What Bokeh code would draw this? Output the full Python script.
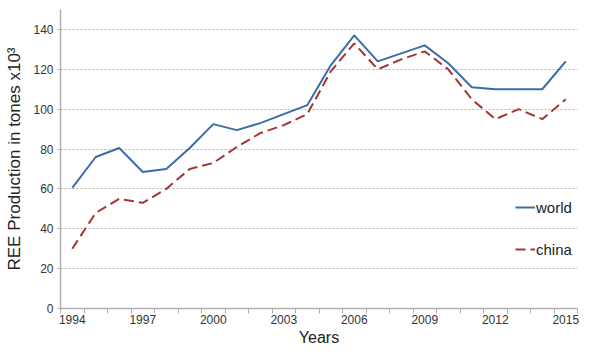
from bokeh.plotting import figure
from bokeh.models import FixedTicker, Legend, LegendItem, Range1d
from bokeh.embed import file_html
from bokeh.resources import INLINE

years = list(range(1994, 2016))
world = [60.5, 76, 80.5, 68.5, 70, 80.5, 92.5, 89.5, 93, 97.5, 102, 122, 137, 124, 128, 132, 123, 111, 110, 110, 110, 124]
china = [30, 48, 55, 53, 60, 70, 73, 81, 88, 92, 97.5, 119, 133, 120, 125, 129, 120, 105, 95, 100, 95, 105]
x_label_years = [1994, 1997, 2000, 2003, 2006, 2009, 2012, 2015]
y_ticks = [0, 20, 40, 60, 80, 100, 120, 140]

p = figure(width=586, height=348, output_backend="svg", toolbar_location=None,
           x_range=Range1d(1993.5, 2015.5), y_range=Range1d(0, 150),
           min_border_left=60, min_border_right=9, min_border_top=9, min_border_bottom=38)
p.outline_line_color = None
p.background_fill_color = "white"

rw = p.line(years, world, line_color="#3A6EA8", line_width=2)
rc = p.line(years, china, line_color="#A33535", line_width=2, line_dash="10 5")

minor = [y - 0.5 for y in years] + [years[-1] + 0.5]
p.xaxis.ticker = FixedTicker(ticks=x_label_years, minor_ticks=minor)
p.yaxis.ticker = FixedTicker(ticks=y_ticks)
p.xgrid.visible = False
p.ygrid.grid_line_color = "#b5b5b5"
p.ygrid.grid_line_dash = "2 2"
p.ygrid.grid_line_width = 1

for ax in (p.xaxis, p.yaxis):
    ax.axis_line_color = "#b0b0b0"
    ax.axis_line_width = 1.5
    ax.major_tick_line_color = "#b0b0b0"
    ax.minor_tick_line_color = "#b0b0b0"
    ax.major_label_text_font = "Liberation Sans"
    ax.major_label_text_font_size = "12px"
    ax.major_label_text_color = "#333333"
    ax.axis_label_text_font = "Liberation Sans"
    ax.axis_label_text_font_style = "normal"
    ax.axis_label_text_color = "#222222"

p.xaxis.major_tick_in = 0
p.xaxis.major_tick_out = 0
p.xaxis.minor_tick_in = 0
p.xaxis.minor_tick_out = 5
p.xaxis.major_label_standoff = 1
p.xaxis.axis_label = "Years"
p.xaxis.axis_label_text_font_size = "16px"
p.xaxis.axis_label_standoff = 2

p.yaxis.major_tick_in = 0
p.yaxis.major_tick_out = 3
p.yaxis.minor_tick_out = 0
p.yaxis.minor_tick_in = 0
p.yaxis.major_label_standoff = 4
p.yaxis.axis_label = "REE Production in tones x10³"
p.yaxis.axis_label_text_font_size = "17px"
p.yaxis.axis_label_standoff = 6

legend = Legend(items=[LegendItem(label="world", renderers=[rw]),
                       LegendItem(label="china", renderers=[rc])],
                location=(455, 49), orientation="vertical")
legend.background_fill_alpha = 0
legend.border_line_color = None
legend.padding = 0
legend.margin = 0
legend.spacing = 22
legend.glyph_width = 20
legend.glyph_height = 20
legend.label_standoff = 1
legend.label_text_font = "Liberation Sans"
legend.label_text_font_size = "15px"
legend.label_text_color = "#222222"
p.add_layout(legend, "center")

open("out.html", "w").write(file_html(p, INLINE))
